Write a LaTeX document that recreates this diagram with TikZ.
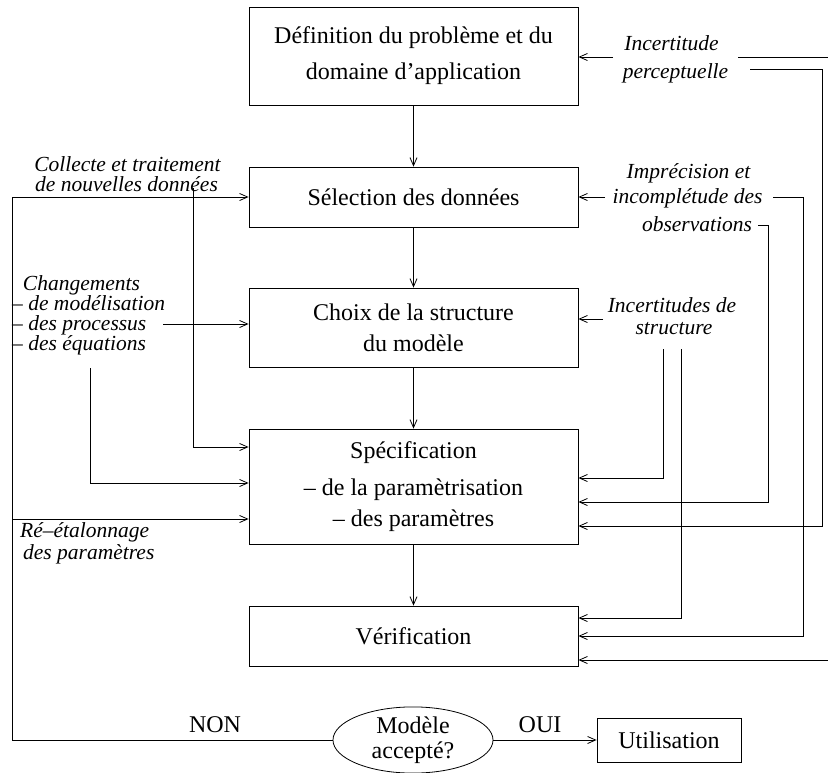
\documentclass[tikz,border=0pt]{standalone}
\usepackage{fontspec}
\setmainfont{Liberation Serif}
\usetikzlibrary{arrows.meta,shapes.geometric}
\begin{document}
\begin{tikzpicture}[x=1pt,y=-1pt,
  box/.style={draw, line width=0.8pt, minimum width=329pt, align=center, inner sep=0pt, font=\fontsize{24}{31}\selectfont},
  lab/.style={font=\itshape\fontsize{21.5}{18}\selectfont, inner sep=0pt, anchor=base},
  plain/.style={font=\fontsize{24}{28}\selectfont, inner sep=0pt, anchor=base},
  arr/.style={-{Straight Barb[length=8pt,width=7pt]}, line width=0.8pt},
  ln/.style={line width=0.8pt}]
\useasboundingbox (0,0) rectangle (828,772);
% boxes
\node[box, minimum height=98pt, font=\fontsize{24}{36}\selectfont] (b1) at (413.5,56) {Définition du problème et du\\domaine d’application};
\node[box, minimum height=60pt] (b2) at (413.5,197) {Sélection des données};
\node[box, minimum height=79pt] (b3) at (413.5,327.5) {Choix de la structure\\du modèle};
\node[box, minimum height=115pt] (b4) at (413.5,486.5) {Spécification\\[6pt]– de la paramètrisation\\– des paramètres};
\node[box, minimum height=60pt] (b5) at (413.5,636) {Vérification};
\node[ellipse, draw, line width=0.8pt, minimum width=160pt, minimum height=58pt, inner sep=0pt, align=center, font=\fontsize{24}{25}\selectfont] (ell) at (413,740) {Modèle\\accepté?};
\node[draw, line width=0.8pt, minimum width=144pt, minimum height=44pt, inner sep=0pt, font=\fontsize{24}{28}\selectfont] (util) at (669,740) {Utilisation};
% labels
\node[lab] (coll1) at (127.5,171) {Collecte et traitement};
\node[lab] (coll2) at (126.5,191) {de nouvelles données};
\node[lab] (chg1) at (81.5,290) {Changements};
\node[lab, anchor=base west] (chg2) at (12,310) {– de modélisation};
\node[lab, anchor=base west] (chg3) at (12,330) {– des processus};
\node[lab, anchor=base west] (chg4) at (12,350) {– des équations};
\node[lab, anchor=base west] (reet1) at (20,537) {Ré–étalonnage};
\node[lab, anchor=base west] (reet2) at (23,559) {des paramètres};
\node[lab] (inc1) at (671.5,50) {Incertitude};
\node[lab] (inc2) at (675.5,78) {perceptuelle};
\node[lab] (imp1) at (688.5,178) {Imprécision et};
\node[lab] (imp2) at (687.5,203) {incomplétude des};
\node[lab] (imp3) at (697,231) {observations};
\node[lab] (ist1) at (672,312) {Incertitudes de};
\node[lab] (ist2) at (674,334) {structure};
\node[plain] (non) at (215,732) {NON};
\node[plain] (oui) at (540,732) {OUI};
% main flow
\draw[arr] (b1.south) -- (b2.north);
\draw[arr] (b2.south) -- (b3.north);
\draw[arr] (b3.south) -- (b4.north);
\draw[arr] (b4.south) -- (b5.north);
\draw[arr] (ell.east) -- (util.west);
% y levels
\coordinate (y447) at (0,447);
\coordinate (y483) at (0,483);
\coordinate (y478) at (0,478);
\coordinate (y502) at (0,502);
\coordinate (y526) at (0,526);
\coordinate (y618) at (0,618);
\coordinate (y636) at (0,636);
% left feedback
\coordinate (lx1) at (12,197);
\draw[arr] (ell.west) -| (lx1) -- (b2.west);
\coordinate (lx2) at (12,519);
\draw[arr] (lx2) -- (b4.west |- lx2);
\coordinate (v193) at (193,188);
\draw[arr] (v193) |- (b4.west |- y447);
\coordinate (pr) at (163,324);
\draw[arr] (pr) -- (b3.west |- pr);
\coordinate (v90) at (90,368);
\draw[arr] (v90) |- (b4.west |- y483);
% right side
\coordinate (ia) at (613,57);
\draw[arr] (ia) -- (b1.east |- ia);
\coordinate (ib) at (738,57);
\coordinate (ib2) at (828,57);
\draw[ln] (ib) -- (ib2);
\coordinate (pc) at (750,69);
\coordinate (pcv) at (822,526);
\draw[arr] (pc) -| (pcv) -- (b4.east |- y526);
\coordinate (ic) at (605,197);
\draw[arr] (ic) -- (b2.east |- ic);
\coordinate (id) at (773,197);
\coordinate (idv) at (803,636);
\draw[arr] (id) -| (idv) -- (b5.east |- y636);
\coordinate (oe) at (758,225);
\coordinate (oev) at (768,502);
\draw[arr] (oe) -| (oev) -- (b4.east |- y502);
\coordinate (sa) at (603,319);
\draw[arr] (sa) -- (b3.east |- sa);
\coordinate (sb) at (663,349);
\draw[arr] (sb) |- (b4.east |- y478);
\coordinate (sc) at (681,349);
\draw[arr] (sc) |- (b5.east |- y618);
\coordinate (rb) at (828,660);
\draw[arr] (rb) -- (b5.east |- rb);
\end{tikzpicture}
\end{document}
